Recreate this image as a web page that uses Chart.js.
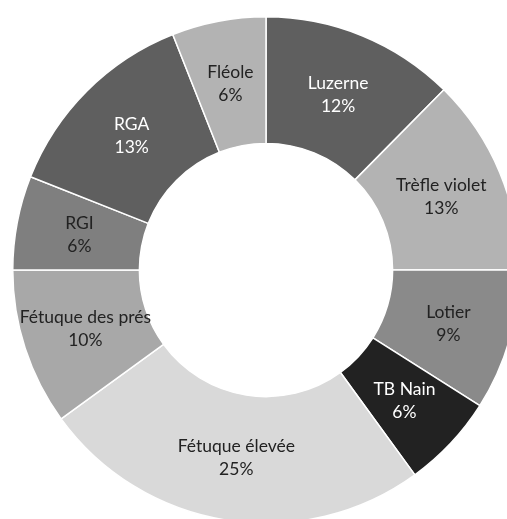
<!DOCTYPE html>
<html>
<head>
<meta charset="utf-8">
<script src="https://cdn.jsdelivr.net/npm/chart.js@4.4.1/dist/chart.umd.min.js"></script>
<style>
    html, body { margin: 0; padding: 0; background: #fff; overflow: hidden; }
    #wrap { width: 507px; height: 519px; overflow: hidden; position: relative; }
    canvas { position: absolute; left: 0; top: 0; }
</style>
</head>
<body>
<div id="wrap"><canvas id="fourrageChart" width="532" height="540"></canvas></div>
<script>
// Parts of the mix, clockwise from 12 o'clock (values in %)
const especes = ['Luzerne', 'Trèfle violet', 'Lotier', 'TB Nain', 'Fétuque élevée', 'Fétuque des prés', 'RGI', 'RGA', 'Fléole'];
const parts = [12.4, 12.6, 9, 6, 25, 10, 6, 13, 6];
const gris = ['#5f5f5f', '#b3b3b3', '#8a8a8a', '#222222', '#d9d9d9', '#a8a8a8', '#7f7f7f', '#5f5f5f', '#b3b3b3'];

// Draws "name" + "xx%" in the middle of each slice
const etiquettes = {
    id: 'etiquettes',
    afterDatasetsDraw(chart) {
        const ctx = chart.ctx;
        const meta = chart.getDatasetMeta(0);
        const total = parts.reduce((a, b) => a + b, 0);
        ctx.save();
        ctx.font = "17.5px Lato, 'Noto Sans', sans-serif";
        ctx.textAlign = 'center';
        ctx.textBaseline = 'middle';
        meta.data.forEach((arc, i) => {
            const pos = arc.tooltipPosition();
            const fond = parseInt(gris[i].slice(1, 3), 16);
            ctx.fillStyle = fond < 0x70 ? '#ffffff' : '#222222';
            const pct = Math.round(parts[i] / total * 100) + '%';
            ctx.fillText(especes[i], pos.x, pos.y - 11);
            ctx.fillText(pct, pos.x, pos.y + 12);
        });
        ctx.restore();
    }
};

new Chart(document.getElementById('fourrageChart').getContext('2d'), {
    type: 'doughnut',
    data: {
        labels: especes,
        datasets: [{
            data: parts,
            backgroundColor: gris,
            borderColor: '#ffffff',
            borderWidth: 1.5
        }]
    },
    options: {
        responsive: false,
        animation: false,
        cutout: '50%',
        layout: { padding: { left: 12, right: 12, top: 16, bottom: 16 } },
        plugins: {
            legend: { display: false },
            tooltip: { enabled: false }
        }
    },
    plugins: [etiquettes]
});
</script>
</body>
</html>
